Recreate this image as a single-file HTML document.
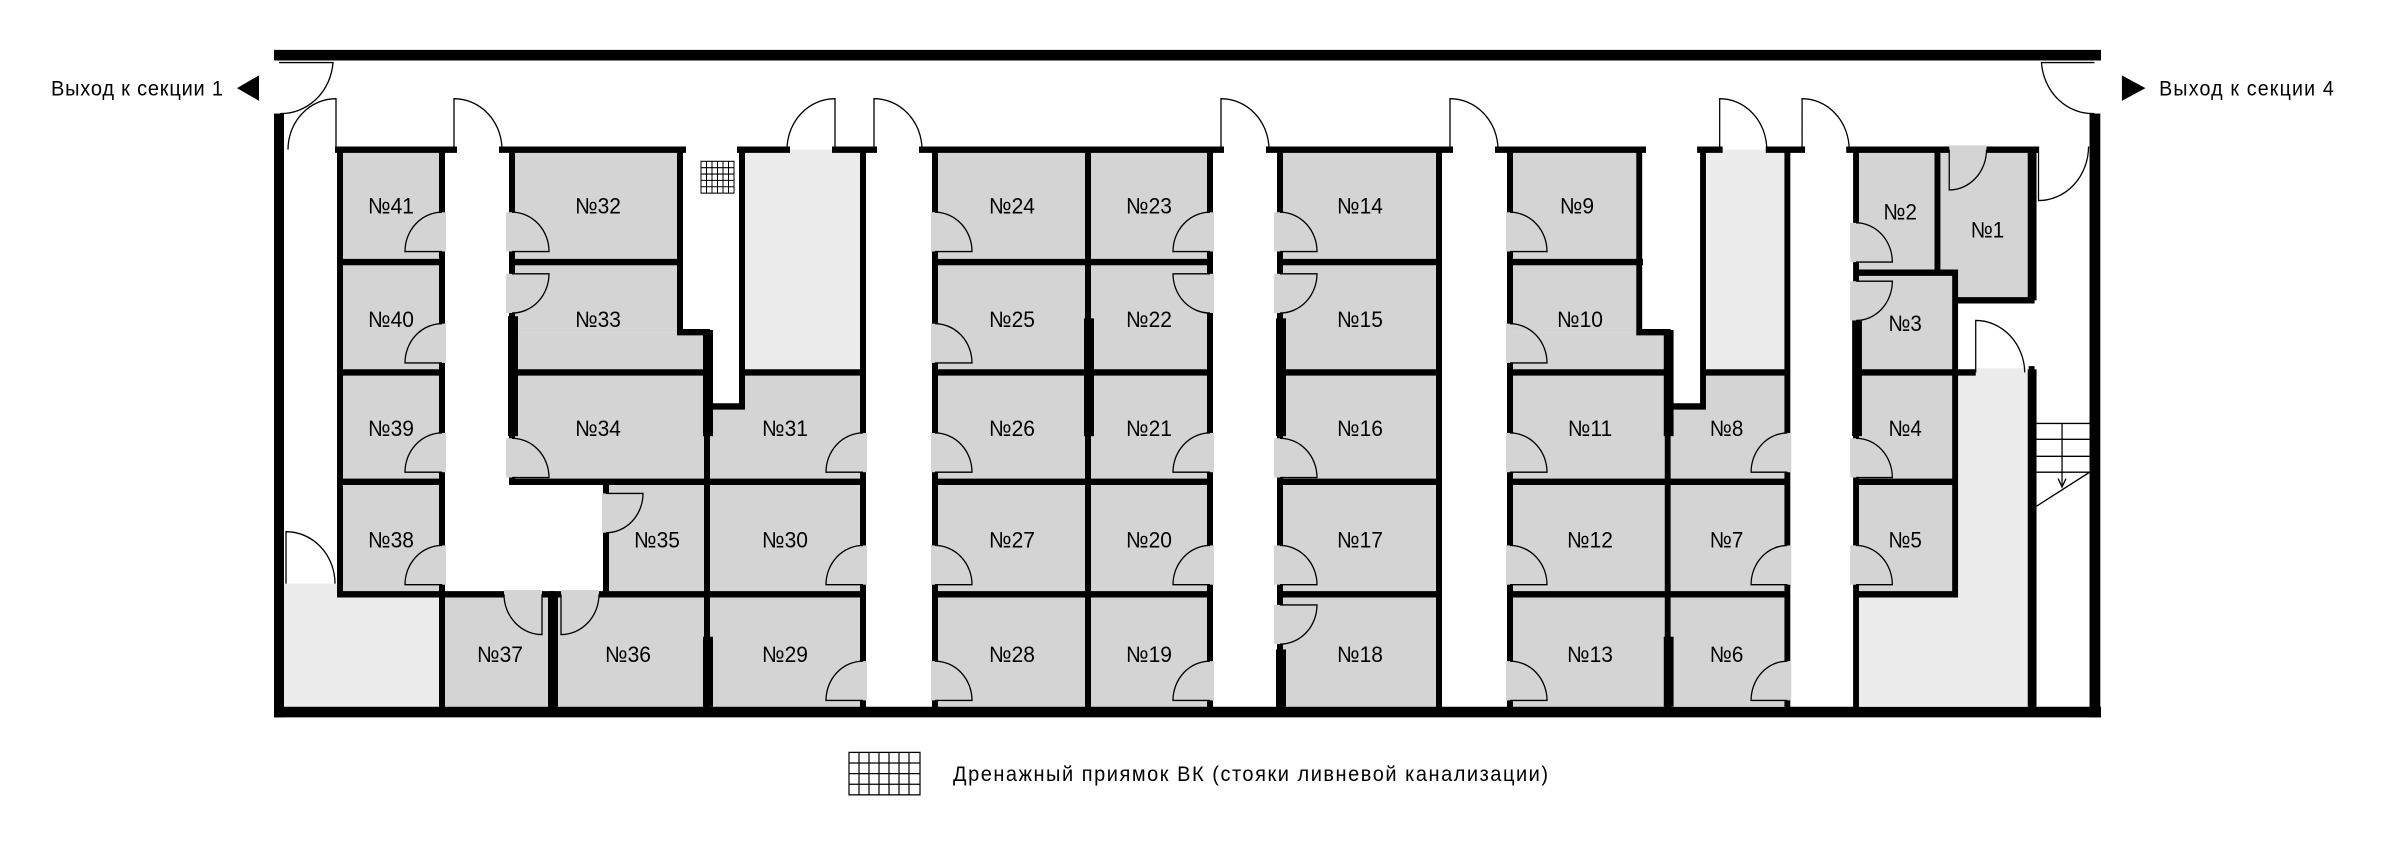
<!DOCTYPE html>
<html><head><meta charset="utf-8"><style>
html,body{margin:0;padding:0;background:#fff;}
svg{display:block;}
text{font-family:"Liberation Sans",sans-serif;fill:#000;}
</style></head><body>
<svg width="2385" height="849" viewBox="0 0 2385 849" xmlns="http://www.w3.org/2000/svg">
<g transform="scale(1,1.0612)">
<g fill="#ececec">
<rect x="284" y="550" width="155" height="116"/>
<rect x="742" y="141" width="121" height="210"/>
</g>
<g fill="#d4d4d4">
<rect x="340" y="141" width="102" height="419"/>
<rect x="512" y="141" width="168" height="172"/>
<rect x="512" y="313" width="195" height="141"/>
<rect x="606" y="454" width="101" height="106"/>
<rect x="442" y="560" width="265" height="106"/>
<polygon points="707,383 742,383 742,351 863,351 863,666 707,666"/>
<rect x="935" y="141" width="275" height="525"/>
<rect x="1280" y="141" width="159" height="525"/>
<rect x="1510" y="141" width="130" height="172"/>
<rect x="1510" y="313" width="159" height="353"/>
</g>
<g fill="#000">
<rect x="274" y="47" width="1827" height="10"/>
<rect x="274" y="107" width="10" height="569"/>
<rect x="274" y="666" width="1827" height="10"/>
</g>
<g stroke="#000" stroke-width="6" fill="none" stroke-linecap="square">
<path d="M338 141H454 M502 141H683 M740 141H787 M835 141H874 M922 141H1221 M1269 141H1450 M1498 141H1643"/>
<path d="M340 141V560 M442 141V666 M340 247H442 M340 351H442 M340 454H442 M340 560H504 M542 560H599 M599 560H863"/>
<path d="M512 141V454 M680 141V313 M680 313H707 M707 313V666 M512 247H680 M512 351H707 M512 454H863 M606 454V560 M552 560V666"/>
<path d="M742 141V383 M707 383H742 M742 351H863 M863 141V666"/>
<path d="M935 141V666 M1088 141V666 M1210 141V666 M935 247H1210 M935 351H1210 M935 454H1210 M935 560H1210"/>
<path d="M1280 141V666 M1439 141V666 M1280 247H1439 M1280 351H1439 M1280 454H1439 M1280 560H1439"/>
<path d="M1510 141V666 M1510 247H1640 M1510 351H1669 M1510 454H1669 M1510 560H1669"/>
</g>
<g fill="#000">
<rect x="508" y="298" width="10" height="113"/>
<rect x="703" y="311" width="10" height="100"/>
<rect x="703" y="600" width="10" height="66"/>
<rect x="548" y="558" width="10" height="108"/>
<rect x="1084" y="300" width="10" height="111"/>
<rect x="1276" y="300" width="10" height="111"/>
<rect x="1276" y="612" width="10" height="54"/>
</g>
<g fill="#d4d4d4">
<rect x="438" y="200" width="8" height="37"/><rect x="438" y="305" width="8" height="37"/><rect x="438" y="408" width="8" height="37"/><rect x="438" y="514" width="8" height="37"/>
<rect x="506" y="200" width="14" height="37"/><rect x="506" y="258" width="14" height="37"/><rect x="506" y="413" width="14" height="37"/>
<rect x="602" y="465" width="8" height="37"/>
<rect x="504" y="556" width="38" height="8"/><rect x="561" y="556" width="38" height="8"/>
<rect x="859" y="408" width="8" height="37"/><rect x="859" y="514" width="8" height="37"/><rect x="859" y="623" width="8" height="37"/>
<rect x="931" y="200" width="8" height="37"/><rect x="931" y="305" width="8" height="37"/><rect x="931" y="408" width="8" height="37"/><rect x="931" y="514" width="8" height="37"/><rect x="931" y="623" width="8" height="37"/>
<rect x="1206" y="200" width="8" height="37"/><rect x="1206" y="258" width="8" height="37"/><rect x="1206" y="408" width="8" height="37"/><rect x="1206" y="514" width="8" height="37"/><rect x="1206" y="623" width="8" height="37"/>
<rect x="1274" y="200" width="14" height="37"/><rect x="1274" y="258" width="14" height="37"/><rect x="1274" y="413" width="14" height="37"/><rect x="1274" y="514" width="14" height="37"/><rect x="1274" y="570" width="14" height="37"/>
<rect x="1506" y="200" width="8" height="37"/><rect x="1506" y="305" width="8" height="37"/><rect x="1506" y="408" width="8" height="37"/><rect x="1506" y="514" width="8" height="37"/><rect x="1506" y="623" width="8" height="37"/>
</g>
<g stroke="#000" stroke-width="1.3" fill="none">
<path d="M442 237H405A37 37 0 0 1 442 200 M442 342H405A37 37 0 0 1 442 305 M442 445H405A37 37 0 0 1 442 408 M442 551H405A37 37 0 0 1 442 514"/>
<path d="M512 237H549A37 37 0 0 0 512 200 M512 258H549A37 37 0 0 1 512 295 M512 450H549A37 37 0 0 0 512 413"/>
<path d="M606 465H643A37 37 0 0 1 606 502"/>
<path d="M542 560V598A38 38 0 0 1 504 560 M561 560V598A38 38 0 0 0 599 560"/>
<path d="M863 445H826A37 37 0 0 1 863 408 M863 551H826A37 37 0 0 1 863 514 M863 660H826A37 37 0 0 1 863 623"/>
<path d="M935 237H972A37 37 0 0 0 935 200 M935 342H972A37 37 0 0 0 935 305 M935 445H972A37 37 0 0 0 935 408 M935 551H972A37 37 0 0 0 935 514 M935 660H972A37 37 0 0 0 935 623"/>
<path d="M1210 237H1173A37 37 0 0 1 1210 200 M1210 258H1173A37 37 0 0 0 1210 295 M1210 445H1173A37 37 0 0 1 1210 408 M1210 551H1173A37 37 0 0 1 1210 514 M1210 660H1173A37 37 0 0 1 1210 623"/>
<path d="M1280 237H1317A37 37 0 0 0 1280 200 M1280 258H1317A37 37 0 0 1 1280 295 M1280 450H1317A37 37 0 0 0 1280 413 M1280 551H1317A37 37 0 0 0 1280 514 M1280 570H1317A37 37 0 0 1 1280 607"/>
<path d="M1510 237H1547A37 37 0 0 0 1510 200 M1510 342H1547A37 37 0 0 0 1510 305 M1510 445H1547A37 37 0 0 0 1510 408 M1510 551H1547A37 37 0 0 0 1510 514 M1510 660H1547A37 37 0 0 0 1510 623"/>
<path d="M336 141V93A48 48 0 0 0 288 141 M454 141V93A48 48 0 0 1 502 141 M835 141V93A48 48 0 0 0 787 141 M874 141V93A48 48 0 0 1 922 141 M1221 141V93A48 48 0 0 1 1269 141 M1450 141V93A48 48 0 0 1 1498 141"/>
<path d="M286 550V501A49 49 0 0 1 335 550"/>
<path d="M279 59H333A52 52 0 0 1 280 107"/>
</g>
<g stroke="#000" stroke-width="1" fill="#fff">
<rect x="701" y="152" width="33" height="30"/>
<path d="M706.5 152V182 M712 152V182 M717.5 152V182 M723 152V182 M728.5 152V182 M701 158H734 M701 164H734 M701 170H734 M701 176H734" fill="none"/>
</g>
<g stroke="#000" stroke-width="1.2" fill="none">
<rect x="849" y="709" width="71" height="40"/>
<path d="M859 709V749 M869 709V749 M879 709V749 M889 709V749 M899 709V749 M909 709V749 M849 719H920 M849 729H920 M849 739H920"/>
</g>
<polygon points="259,71 259,95 237,83" fill="#000"/>
<text x="51" y="90" font-size="20" textLength="172" lengthAdjust="spacing">Выход к секции 1</text>
<text x="953" y="736" font-size="20" textLength="595" lengthAdjust="spacing">Дренажный приямок ВК (стояки ливневой канализации)</text>
<g font-size="21" text-anchor="middle">
<text x="391" y="201">№41</text><text x="391" y="308">№40</text><text x="391" y="411">№39</text><text x="391" y="516">№38</text>
<text x="598" y="201">№32</text><text x="598" y="308">№33</text><text x="598" y="411">№34</text><text x="657" y="516">№35</text>
<text x="500" y="624">№37</text><text x="628" y="624">№36</text>
<text x="785" y="411">№31</text><text x="785" y="516">№30</text><text x="785" y="624">№29</text>
<text x="1012" y="201">№24</text><text x="1012" y="308">№25</text><text x="1012" y="411">№26</text><text x="1012" y="516">№27</text><text x="1012" y="624">№28</text>
<text x="1149" y="201">№23</text><text x="1149" y="308">№22</text><text x="1149" y="411">№21</text><text x="1149" y="516">№20</text><text x="1149" y="624">№19</text>
<text x="1360" y="201">№14</text><text x="1360" y="308">№15</text><text x="1360" y="411">№16</text><text x="1360" y="516">№17</text><text x="1360" y="624">№18</text>
<text x="1577" y="201">№9</text><text x="1580" y="308">№10</text><text x="1590" y="411">№11</text><text x="1590" y="516">№12</text><text x="1590" y="624">№13</text>
</g>

<g transform="translate(1600,0) scale(0.981,1) translate(-1600,0)">
<g fill="#ececec">
<rect x="1705" y="141" width="86" height="210"/>
<rect x="1861" y="560" width="179" height="106"/>
<rect x="1962" y="351" width="78" height="215"/>
</g>
<g fill="#d4d4d4">
<polygon points="1669,383 1705,383 1705,351 1791,351 1791,666 1669,666"/>
<rect x="1944" y="141" width="96" height="142"/>
<rect x="1861" y="141" width="101" height="419"/>
</g>
<rect x="2099" y="107" width="11" height="569" fill="#000"/>
<g stroke="#000" stroke-width="6" fill="none" stroke-linecap="square">
<path d="M1702 141H1722 M1772 141H1806 M1854 141H1956 M1994 141H2044"/>
<path d="M1640 141V313 M1640 313H1669 M1669 313V666 M1669 383H1705 M1705 141V383 M1705 351H1791 M1791 141V666 M1669 454H1791 M1669 560H1791"/>
<path d="M1861 141V666 M1944 141V257 M1861 257H1962 M1962 257V560 M1861 351H1983 M1861 454H1962 M1861 560H1962 M2040 141V283 M1962 283H2040 M2040 348V666"/>
</g>
<g fill="#000">
<rect x="1665" y="311" width="10" height="100"/>
<rect x="1665" y="600" width="10" height="66"/>
<rect x="1857" y="300" width="10" height="111"/>
<rect x="2036" y="141" width="9" height="142"/>
<rect x="2036" y="348" width="9" height="318"/>
</g>
<g fill="#d4d4d4">
<rect x="1787" y="408" width="8" height="37"/><rect x="1787" y="514" width="8" height="37"/><rect x="1787" y="623" width="8" height="37"/>
<rect x="1855" y="210" width="14" height="37"/><rect x="1855" y="265" width="14" height="37"/><rect x="1855" y="413" width="14" height="37"/><rect x="1855" y="514" width="14" height="37"/>
<rect x="1956" y="137" width="38" height="8"/>
</g>
<rect x="1983" y="347" width="50" height="8" fill="#ececec"/>
<g stroke="#000" stroke-width="1.3" fill="none">
<path d="M1791 445H1754A37 37 0 0 1 1791 408 M1791 551H1754A37 37 0 0 1 1791 514 M1791 660H1754A37 37 0 0 1 1791 623"/>
<path d="M1861 247H1898A37 37 0 0 0 1861 210 M1861 265H1898A37 37 0 0 1 1861 302 M1861 450H1898A37 37 0 0 0 1861 413 M1861 551H1898A37 37 0 0 0 1861 514"/>
<path d="M1956 141V179A38 38 0 0 0 1994 141"/>
<path d="M1722 141V93A48 48 0 0 1 1770 141 M1806 141V93A48 48 0 0 1 1854 141"/>
<path d="M1983 351V302A50 50 0 0 1 2033 351"/>
<path d="M2104 59H2050A52 52 0 0 0 2104 107"/>
<path d="M2047 138V189A51 51 0 0 0 2098 138"/>
<path d="M2045 399H2099 M2045 414H2099 M2045 430H2099 M2045 445H2099 M2045 477L2099 445 M2071 399V458"/>
<path d="M2067 451L2071 459L2075 451"/>
</g>
<polygon points="2132,71 2132,95 2156,83" fill="#000"/>
<text x="2170" y="90" font-size="20" textLength="178" lengthAdjust="spacing">Выход к секции 4</text>
<g font-size="21" text-anchor="middle">
<text x="1729" y="411">№8</text><text x="1729" y="516">№7</text><text x="1729" y="624">№6</text>
<text x="1906" y="207">№2</text><text x="1995" y="224">№1</text><text x="1911" y="312">№3</text><text x="1911" y="411">№4</text><text x="1911" y="516">№5</text>
</g>
</g>
</g>
</svg>
</body></html>
